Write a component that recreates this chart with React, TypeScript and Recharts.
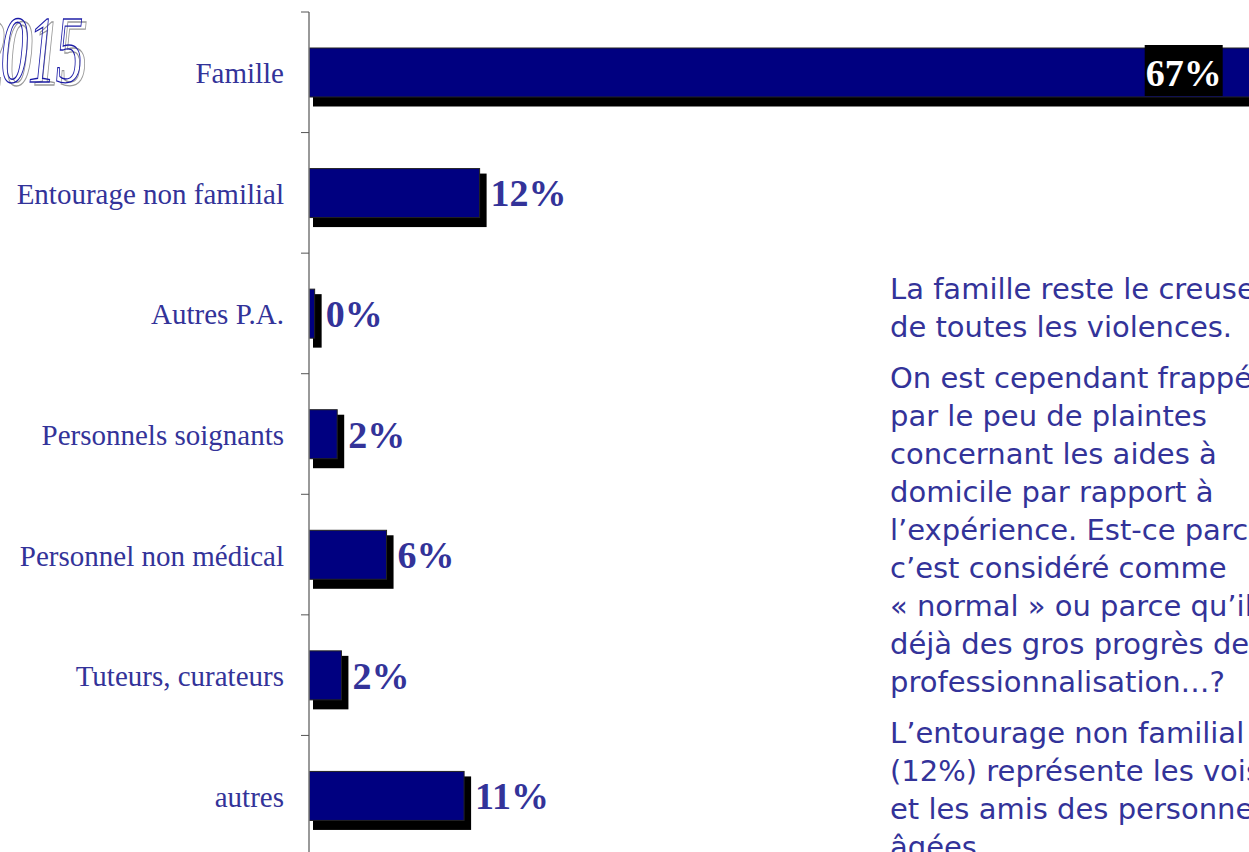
import React from "react";
import { BarChart, Bar, XAxis, YAxis, LabelList } from "recharts";

const categories = [
  "Famille",
  "Entourage non familial",
  "Autres P.A.",
  "Personnels soignants",
  "Personnel non médical",
  "Tuteurs, curateurs",
  "autres",
];
const values = [67, 12.1, 0.4, 2.0, 5.5, 2.3, 11.0];
const valueLabels = ["67%", "12%", "0%", "2%", "6%", "2%", "11%"];

const yearTitle = "2015";
const notes = [
  ["La famille reste le creuset", "de toutes les violences."],
  [
    "On est cependant frappé",
    "par le peu de plaintes",
    "concernant les aides à",
    "domicile par rapport à",
    "l’expérience. Est-ce parce que",
    "c’est considéré comme",
    "« normal » ou parce qu’il y a",
    "déjà des gros progrès de",
    "professionnalisation…?",
  ],
  [
    "L’entourage non familial",
    "(12%) représente les voisins",
    "et les amis des personnes",
    "âgées.",
  ],
];

const data = categories.map((name, i) => ({ name, value: values[i], label: valueLabels[i] }));

const CHART_W = 1296;
const CHART_H = 856;
const TOP = 12;
const AXIS_W = 309;
const BAND_HALF = (CHART_H - TOP) / categories.length / 2;

const NAVY = "#000080";
const TEXT = "#333399";
const SERIF = "'Times New Roman', 'Liberation Serif', serif";

const CatTick = (props: any) => {
  const { x, y, payload } = props;
  return (
    <g>
      <line x1={x + 17} x2={x + 25} y1={y - BAND_HALF} y2={y - BAND_HALF} stroke="#555" strokeWidth={1} />
      <text x={x} y={y} dy="0.38em" textAnchor="end" fill={TEXT} fontFamily={SERIF} fontSize={29}>
        {payload.value}
      </text>
    </g>
  );
};

const ShadowBar = (props: any) => {
  const { x, y, width, height } = props;
  return (
    <g>
      <rect x={x + 4} y={y + 5} width={width + 3} height={height + 4.5} fill="#000" />
      <rect x={x} y={y} width={width} height={height} fill={NAVY} stroke="#222" strokeWidth={1} />
    </g>
  );
};

const ValueLabel = (props: any) => {
  const { x, y, width, height, value, index } = props;
  const cy = y + height / 2;
  if (index === 0) {
    const right = x + width - 31;
    return (
      <g>
        <rect x={right - 78} y={y - 3} width={78} height={height + 2} fill="#000" />
        <text x={right - 39} y={cy} dy="0.35em" textAnchor="middle" fill="#fff" fontFamily={SERIF} fontWeight="bold" fontSize={38}>
          {value}
        </text>
      </g>
    );
  }
  return (
    <text x={x + width + 11} y={cy} dy="0.35em" textAnchor="start" fill={TEXT} fontFamily={SERIF} fontWeight="bold" fontSize={38}>
      {value}
    </text>
  );
};

export default function App() {
  return (
    <div style={{ position: "absolute", left: 0, top: 0, width: 1249, height: 852, overflow: "hidden", background: "#fff" }}>
      <BarChart
        width={CHART_W}
        height={CHART_H}
        data={data}
        layout="vertical"
        margin={{ top: TOP, right: 0, bottom: 0, left: 0 }}
        barCategoryGap={0}
      >
        <XAxis type="number" domain={[0, 70]} hide allowDataOverflow />
        <YAxis
          type="category"
          dataKey="name"
          width={AXIS_W}
          axisLine={{ stroke: "#777", strokeWidth: 1.5 }}
          tickLine={false}
          tickSize={8}
          tickMargin={17}
          tick={<CatTick />}
          interval={0}
        />
        <Bar dataKey="value" barSize={49} shape={<ShadowBar />} isAnimationActive={false}>
          <LabelList dataKey="label" content={<ValueLabel />} />
        </Bar>
      </BarChart>

      <svg style={{ position: "absolute", left: 0, top: 0 }} width={130} height={100}>
        <g transform="translate(-27,82) scale(0.58,1)">
          <text x={8} y={3} fontFamily={SERIF} fontStyle="italic" fontSize={95} fill="none" stroke="#999" strokeWidth={1.4}>
            {yearTitle}
          </text>
          <text x={0} y={0} fontFamily={SERIF} fontStyle="italic" fontSize={95} fill="none" stroke="#1a1aa6" strokeWidth={1.4}>
            {yearTitle}
          </text>
        </g>
      </svg>

      <div
        style={{
          position: "absolute",
          left: 890,
          top: 270,
          fontFamily: "'Comic Sans MS', 'DejaVu Sans', sans-serif",
          fontSize: 29,
          lineHeight: "38px",
          color: TEXT,
          whiteSpace: "nowrap",
        }}
      >
        {notes.map((para, pi) => (
          <div key={pi} style={{ marginBottom: 13 }}>
            {para.map((line, li) => (
              <div key={li}>{line}</div>
            ))}
          </div>
        ))}
      </div>
    </div>
  );
}
